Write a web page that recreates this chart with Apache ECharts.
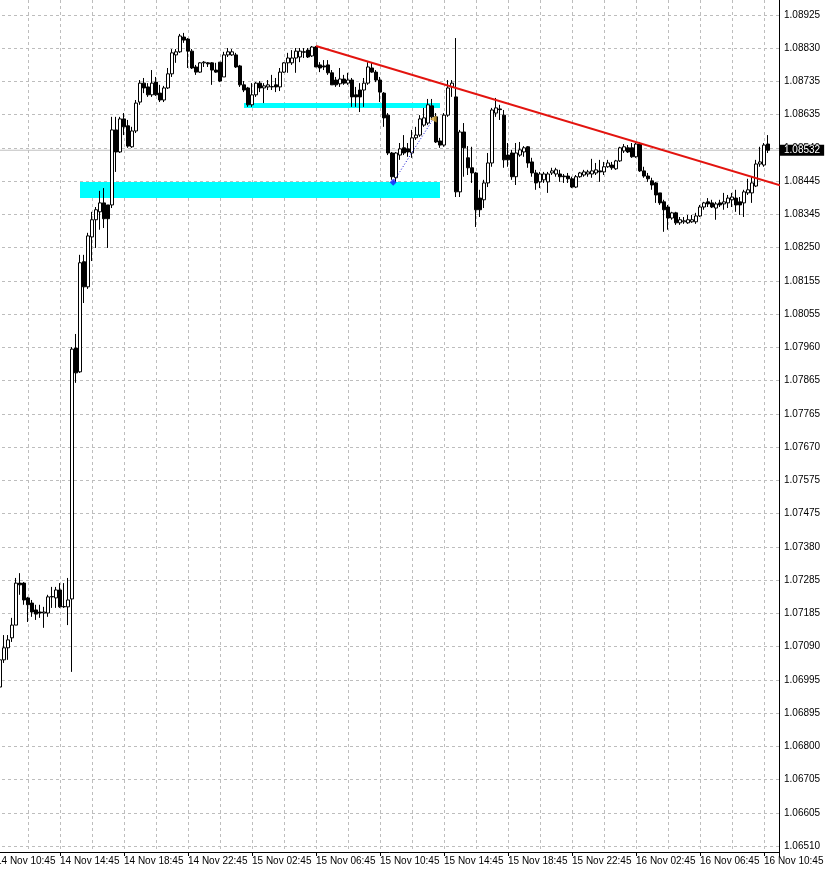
<!DOCTYPE html>
<html><head><meta charset="utf-8">
<script src="https://cdn.jsdelivr.net/npm/echarts@6/dist/echarts.min.js"></script>
<style>html,body{margin:0;padding:0;background:#fff;overflow:hidden}#c{width:828px;height:871px}</style>
</head><body><div id="c"></div>
<script>
// ---- tick labels ----
const xLabels = ['14 Nov 10:45','14 Nov 14:45','14 Nov 18:45','14 Nov 22:45','15 Nov 02:45','15 Nov 06:45','15 Nov 10:45','15 Nov 14:45','15 Nov 18:45','15 Nov 22:45','16 Nov 02:45','16 Nov 06:45','16 Nov 10:45'];
const yLabels = ['1.06510','1.06605','1.06705','1.06800','1.06895','1.06995','1.07090','1.07185','1.07285','1.07380','1.07475','1.07575','1.07670','1.07765','1.07865','1.07960','1.08055','1.08155','1.08250','1.08345','1.08445','1.08540','1.08635','1.08735','1.08830','1.08925'];

// ---- M15 bars, bar index 1 = 14 Nov 11:00 ----
const firstBar = 1;
const opens = [1.06972,1.07051,1.07086,1.07115,1.07152,1.07274,1.07274,1.07231,1.07216,1.07196,1.07190,1.07187,1.07187,1.07234,1.07231,1.07254,1.07205,1.07205,1.07228,1.07957,
1.07888,1.08208,1.08135,1.08280,1.08330,1.08353,1.08379,1.08373,1.08373,1.08591,1.08527,1.08623,1.08603,1.08542,1.08588,1.08672,1.08727,1.08716,1.08693,1.08730,
1.08698,1.08678,1.08713,1.08754,1.08809,1.08818,1.08861,1.08855,1.08820,1.08774,1.08759,1.08786,1.08786,1.08786,1.08765,1.08788,1.08745,1.08809,1.08809,1.08809,
1.08777,1.08722,1.08713,1.08664,1.08693,1.08727,1.08713,1.08716,1.08716,1.08722,1.08716,1.08759,1.08786,1.08786,1.08800,1.08803,1.08818,1.08823,1.08806,1.08832,
1.08780,1.08777,1.08780,1.08757,1.08736,1.08725,1.08739,1.08727,1.08736,1.08693,1.08707,1.08707,1.08727,1.08771,1.08759,1.08736,1.08698,1.08634,1.08524,1.08452,
1.08518,1.08539,1.08536,1.08524,1.08568,1.08576,1.08605,1.08611,1.08661,1.08629,1.08559,1.08547,1.08634,1.08716,1.08687,1.08411,1.08585,1.08510,1.08481,1.08466,
1.08393,1.08388,1.08437,1.08495,1.08640,1.08652,1.08634,1.08518,1.08524,1.08455,1.08518,1.08527,1.08542,1.08498,1.08466,1.08440,1.08446,1.08440,1.08466,1.08463,
1.08463,1.08457,1.08457,1.08449,1.08425,1.08455,1.08460,1.08463,1.08463,1.08466,1.08472,1.08469,1.08484,1.08489,1.08478,1.08501,1.08530,1.08539,1.08539,1.08513,
1.08550,1.08472,1.08457,1.08443,1.08437,1.08408,1.08382,1.08367,1.08335,1.08350,1.08321,1.08324,1.08321,1.08324,1.08324,1.08341,1.08367,1.08382,1.08379,1.08364,
1.08379,1.08376,1.08379,1.08388,1.08393,1.08382,1.08379,1.08408,1.08408,1.08428,1.08492,1.08489,1.08550];
const closes = [1.07051,1.07086,1.07109,1.07152,1.07274,1.07269,1.07225,1.07211,1.07190,1.07184,1.07187,1.07190,1.07234,1.07235,1.07254,1.07205,1.07206,1.07225,1.07954,1.07885,
1.08205,1.08135,1.08283,1.08330,1.08359,1.08379,1.08333,1.08333,1.08591,1.08527,1.08623,1.08600,1.08544,1.08588,1.08669,1.08727,1.08713,1.08693,1.08727,1.08693,
1.08678,1.08713,1.08754,1.08815,1.08818,1.08864,1.08852,1.08820,1.08771,1.08759,1.08786,1.08788,1.08783,1.08765,1.08759,1.08733,1.08809,1.08818,1.08818,1.08774,
1.08722,1.08707,1.08664,1.08693,1.08727,1.08713,1.08719,1.08722,1.08717,1.08716,1.08759,1.08786,1.08800,1.08800,1.08820,1.08820,1.08817,1.08803,1.08832,1.08774,
1.08771,1.08774,1.08757,1.08722,1.08722,1.08739,1.08727,1.08736,1.08687,1.08687,1.08687,1.08727,1.08774,1.08759,1.08736,1.08701,1.08626,1.08524,1.08455,1.08524,
1.08536,1.08524,1.08527,1.08568,1.08576,1.08623,1.08626,1.08664,1.08629,1.08556,1.08547,1.08634,1.08713,1.08727,1.08411,1.08585,1.08539,1.08481,1.08466,1.08359,
1.08359,1.08437,1.08495,1.08649,1.08655,1.08650,1.08504,1.08504,1.08455,1.08524,1.08533,1.08539,1.08495,1.08466,1.08437,1.08463,1.08463,1.08463,1.08472,1.08475,
1.08455,1.08455,1.08449,1.08425,1.08455,1.08466,1.08469,1.08469,1.08472,1.08475,1.08469,1.08484,1.08495,1.08481,1.08501,1.08539,1.08542,1.08527,1.08513,1.08550,
1.08472,1.08457,1.08449,1.08431,1.08402,1.08379,1.08359,1.08335,1.08350,1.08321,1.08330,1.08327,1.08330,1.08330,1.08341,1.08367,1.08379,1.08376,1.08367,1.08376,
1.08373,1.08382,1.08393,1.08396,1.08373,1.08373,1.08411,1.08417,1.08437,1.08492,1.08498,1.08547,1.08532];
const lows = [1.06955,1.07042,1.07051,1.07103,1.07152,1.07240,1.07211,1.07161,1.07176,1.07167,1.07173,1.07144,1.07176,1.07202,1.07202,1.07202,1.07202,1.07152,1.07016,1.07856,
1.07885,1.08088,1.08129,1.08210,1.08248,1.08301,1.08306,1.08248,1.08364,1.08469,1.08524,1.08576,1.08539,1.08539,1.08582,1.08664,1.08698,1.08687,1.08687,1.08690,
1.08672,1.08672,1.08710,1.08745,1.08786,1.08815,1.08844,1.08771,1.08768,1.08751,1.08757,1.08774,1.08774,1.08722,1.08757,1.08730,1.08745,1.08803,1.08806,1.08771,
1.08716,1.08701,1.08658,1.08658,1.08687,1.08701,1.08669,1.08707,1.08707,1.08701,1.08704,1.08757,1.08757,1.08780,1.08757,1.08788,1.08800,1.08800,1.08803,1.08774,
1.08759,1.08765,1.08751,1.08722,1.08716,1.08716,1.08722,1.08722,1.08658,1.08658,1.08643,1.08658,1.08722,1.08757,1.08730,1.08672,1.08600,1.08518,1.08446,1.08440,
1.08504,1.08518,1.08513,1.08510,1.08562,1.08571,1.08600,1.08605,1.08620,1.08553,1.08539,1.08542,1.08629,1.08687,1.08396,1.08396,1.08455,1.08460,1.08437,1.08309,
1.08338,1.08364,1.08425,1.08484,1.08629,1.08620,1.08481,1.08484,1.08446,1.08431,1.08513,1.08513,1.08481,1.08455,1.08417,1.08422,1.08437,1.08408,1.08460,1.08455,
1.08440,1.08437,1.08437,1.08422,1.08422,1.08452,1.08455,1.08455,1.08452,1.08460,1.08440,1.08460,1.08481,1.08475,1.08475,1.08498,1.08524,1.08524,1.08510,1.08510,
1.08469,1.08452,1.08440,1.08417,1.08379,1.08373,1.08295,1.08301,1.08330,1.08315,1.08315,1.08318,1.08318,1.08321,1.08318,1.08338,1.08359,1.08367,1.08364,1.08330,
1.08367,1.08359,1.08364,1.08367,1.08353,1.08344,1.08338,1.08402,1.08379,1.08425,1.08484,1.08484,1.08524];
const highs = [1.07059,1.07123,1.07123,1.07173,1.07289,1.07303,1.07277,1.07234,1.07225,1.07211,1.07211,1.07205,1.07240,1.07263,1.07263,1.07274,1.07274,1.07289,1.07960,1.07998,
1.08228,1.08228,1.08292,1.08353,1.08367,1.08414,1.08422,1.08373,1.08629,1.08629,1.08629,1.08640,1.08620,1.08600,1.08678,1.08736,1.08742,1.08727,1.08765,1.08745,
1.08722,1.08719,1.08771,1.08826,1.08826,1.08870,1.08873,1.08858,1.08826,1.08780,1.08788,1.08791,1.08788,1.08788,1.08786,1.08788,1.08818,1.08829,1.08826,1.08815,
1.08780,1.08733,1.08716,1.08727,1.08730,1.08733,1.08727,1.08736,1.08751,1.08742,1.08771,1.08788,1.08815,1.08823,1.08829,1.08829,1.08829,1.08829,1.08835,1.08835,
1.08788,1.08794,1.08794,1.08765,1.08745,1.08771,1.08751,1.08757,1.08742,1.08716,1.08727,1.08742,1.08788,1.08786,1.08765,1.08745,1.08701,1.08640,1.08527,1.08527,
1.08553,1.08576,1.08553,1.08591,1.08600,1.08634,1.08655,1.08681,1.08681,1.08640,1.08568,1.08640,1.08736,1.08736,1.08858,1.08591,1.08611,1.08544,1.08542,1.08469,
1.08417,1.08446,1.08524,1.08655,1.08684,1.08664,1.08649,1.08553,1.08533,1.08553,1.08556,1.08544,1.08544,1.08510,1.08475,1.08469,1.08469,1.08469,1.08481,1.08481,
1.08475,1.08463,1.08466,1.08455,1.08460,1.08469,1.08475,1.08475,1.08507,1.08495,1.08504,1.08498,1.08504,1.08498,1.08504,1.08542,1.08550,1.08547,1.08553,1.08553,
1.08556,1.08484,1.08466,1.08452,1.08440,1.08408,1.08388,1.08373,1.08353,1.08353,1.08338,1.08338,1.08344,1.08344,1.08350,1.08373,1.08382,1.08393,1.08388,1.08382,
1.08388,1.08408,1.08402,1.08408,1.08417,1.08396,1.08417,1.08449,1.08455,1.08504,1.08542,1.08553,1.08576];

// ---- drawn objects (bar index, price) ----
const bidPrice = 1.08532;
const zoneBig = [[21, 1.08440], [111, 1.08393]];
const zoneThin = [[62, 1.08669], [111, 1.08655]];
const trendLine = [[80, 1.08835], [196, 1.08430]];
const tradeLine = [[99.3, 1.08439], [109.3, 1.08623]];

// ---- axis ranges ----
const Y_MIN = 1.06510, Y_STEP = 0.000966, Y_MAX = 1.089686;
const X_MIN = 0, X_MAX = 195.75, X_GRID = 8, X_LABEL = 16;

const FONT = 'Liberation Sans, Arial, sans-serif';
const GRID_COLOR = '#bdbdbd';

const candles = opens.map((o, i) => [firstBar + i, o, closes[i], lows[i], highs[i]]);

const chart = echarts.init(document.getElementById('c'), null, {renderer: 'canvas'});
chart.setOption({
  animation: false,
  backgroundColor: '#ffffff',
  grid: [
    {left: -4, right: 49, top: 0, bottom: 25, containLabel: false, outerBoundsMode: 'none'},
    {left: -4, right: 49, top: 0, bottom: 19, containLabel: false, outerBoundsMode: 'none'}
  ],
  xAxis: [
    {gridIndex: 0, type: 'value', min: X_MIN, max: X_MAX, show: false},
    {gridIndex: 1, type: 'value', position: 'top', min: X_MIN, max: X_MAX, interval: X_GRID,
      axisLine: {show: false}, axisTick: {show: false}, axisLabel: {show: false},
      splitLine: {show: true, lineStyle: {color: GRID_COLOR, type: [3, 3], width: 1}}},
    {gridIndex: 1, type: 'value', position: 'bottom', min: X_MIN, max: X_MAX, interval: X_LABEL,
      axisLine: {show: true, onZero: false, lineStyle: {color: '#000', width: 1}},
      axisTick: {show: true, length: 4, lineStyle: {color: '#000'}},
      splitLine: {show: false},
      axisLabel: {show: true, showMinLabel: true, showMaxLabel: true, align: 'left', margin: 4,
        fontSize: 10, fontFamily: FONT, color: '#000',
        formatter: v => { const i = Math.round(v / X_LABEL); return Math.abs(v - i * X_LABEL) < 1e-6 && xLabels[i] ? xLabels[i] : ''; }}}
  ],
  yAxis: [
    {gridIndex: 0, type: 'value', position: 'right', min: Y_MIN, max: Y_MAX, interval: Y_STEP, scale: true,
      axisLine: {show: false},
      axisTick: {show: true, length: 4, lineStyle: {color: '#000'}},
      axisLabel: {show: true, margin: 5, fontSize: 10, fontFamily: FONT, color: '#000', showMinLabel: true, showMaxLabel: true,
        formatter: v => { const i = Math.round((v - Y_MIN) / Y_STEP); return Math.abs(v - (Y_MIN + i * Y_STEP)) < Y_STEP * 0.02 && yLabels[i] ? yLabels[i] : ''; }},
      splitLine: {show: true, showMaxLine: false, lineStyle: {color: GRID_COLOR, type: [3, 3], width: 1}}},
    {gridIndex: 1, type: 'value', position: 'right', min: 0, max: 1,
      axisLine: {show: true, onZero: false, lineStyle: {color: '#000', width: 1}},
      axisTick: {show: false}, axisLabel: {show: false}, splitLine: {show: false}}
  ],
  series: [
    {type: 'line', xAxisIndex: 0, yAxisIndex: 0, z: 1, silent: true, showSymbol: false, clip: false,
      lineStyle: {color: '#c0c0c0', width: 1},
      data: [[X_MIN, bidPrice], [X_MAX, bidPrice]],
      markArea: {silent: true, itemStyle: {color: '#00ffff', opacity: 1},
        data: [
          [{coord: zoneBig[0]}, {coord: zoneBig[1]}],
          [{coord: zoneThin[0]}, {coord: zoneThin[1]}]
        ]}
    },
    {type: 'candlestick', xAxisIndex: 0, yAxisIndex: 0, z: 3, silent: true,
      barWidth: 3,
      encode: {x: 0, y: [1, 2, 3, 4]},
      itemStyle: {color: '#ffffff', color0: '#000000', borderColor: '#000000', borderColor0: '#000000', borderColorDoji: '#000000', borderWidth: 1},
      data: candles},
    {type: 'line', xAxisIndex: 0, yAxisIndex: 0, z: 4, silent: true, showSymbol: false,
      lineStyle: {color: '#e3140f', width: 2}, data: trendLine},
    {type: 'line', xAxisIndex: 0, yAxisIndex: 0, z: 4, silent: true, showSymbol: false,
      lineStyle: {color: '#1010d0', width: 1, type: [1, 2]}, data: tradeLine},
    {type: 'scatter', xAxisIndex: 0, yAxisIndex: 0, z: 5, silent: true,
      symbol: 'diamond', symbolSize: 7, itemStyle: {color: '#1a1aff'}, data: [tradeLine[0]]},
    {type: 'scatter', xAxisIndex: 0, yAxisIndex: 0, z: 5, silent: true,
      symbol: 'triangle', symbolRotate: 90, symbolSize: 7, itemStyle: {color: '#d8a838'}, data: [tradeLine[1]]},
    {type: 'scatter', xAxisIndex: 0, yAxisIndex: 0, z: 6, silent: true, clip: false,
      symbolSize: 0, itemStyle: {opacity: 0}, data: [[X_MAX, bidPrice]],
      label: {show: true, position: 'right', distance: 0, formatter: () => bidPrice.toFixed(5),
        backgroundColor: '#000', color: '#fff', fontSize: 10, fontFamily: FONT, padding: [1, 4, 0, 5], opacity: 1}}
  ]
});
</script></body></html>
